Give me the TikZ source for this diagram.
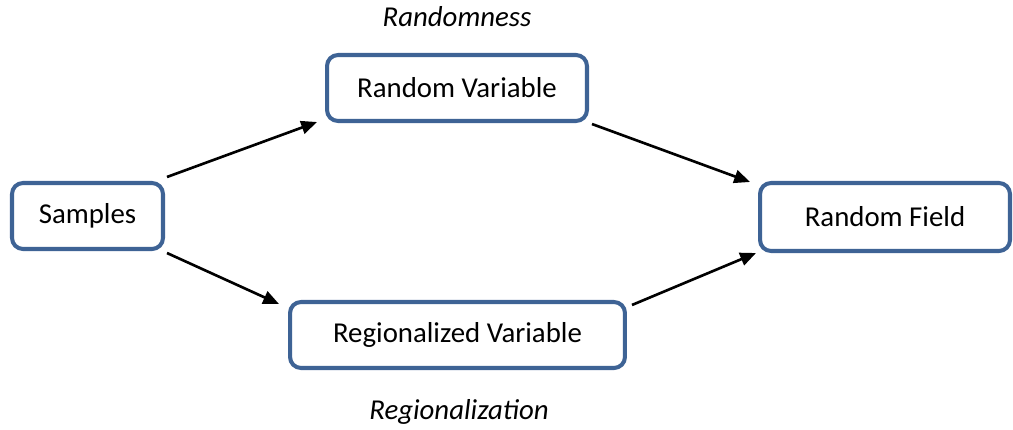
\documentclass[tikz,border=0pt]{standalone}
\usepackage{fontspec}
\setmainfont{Carlito}
\usetikzlibrary{arrows.meta}
\definecolor{boxblue}{HTML}{3E6395}
\tikzset{
  box/.style={draw=boxblue, line width=2.3pt, rounded corners=0.22cm, fill=white,
    inner sep=0pt, minimum height=1.32cm, font=\fontsize{16.4}{20}\selectfont},
  arr/.style={line width=1.5pt, -{Triangle[length=9pt,width=7.5pt]}},
  lab/.style={font=\fontsize{16.4}{20}\selectfont\itshape}
}
\begin{document}
\begin{tikzpicture}[x=0.02cm, y=-0.02cm]
\useasboundingbox (0,0) rectangle (1013,429);
\node[box, minimum width=3.02cm] (s) at (87.5,216) {Samples};
\node[box, minimum width=5.2cm] (rv) at (457,88) {Random Variable};
\node[box, minimum width=5.0cm, minimum height=1.36cm] (rf) at (885,217) {Random Field};
\node[box, minimum width=6.7cm] (rg) at (457.5,335) {Regionalized Variable};
\node[lab] (t1) at (457,17) {Randomness};
\node[lab] (t2) at (459,412) {Regionalization};
\draw[arr] ([shift={(2,-4)}]s.north east) -- ([shift={(-8,-1)}]rv.south west);
\draw[arr] ([shift={(3,1)}]rv.south east) -- ([shift={(-8,1)}]rf.north west);
\draw[arr] ([shift={(2,2)}]s.south east) -- ([shift={(-9,4)}]rg.north west);
\draw[arr] ([shift={(5,5)}]rg.north east) -- ([shift={(-2,0)}]rf.south west);
\end{tikzpicture}
\end{document}
